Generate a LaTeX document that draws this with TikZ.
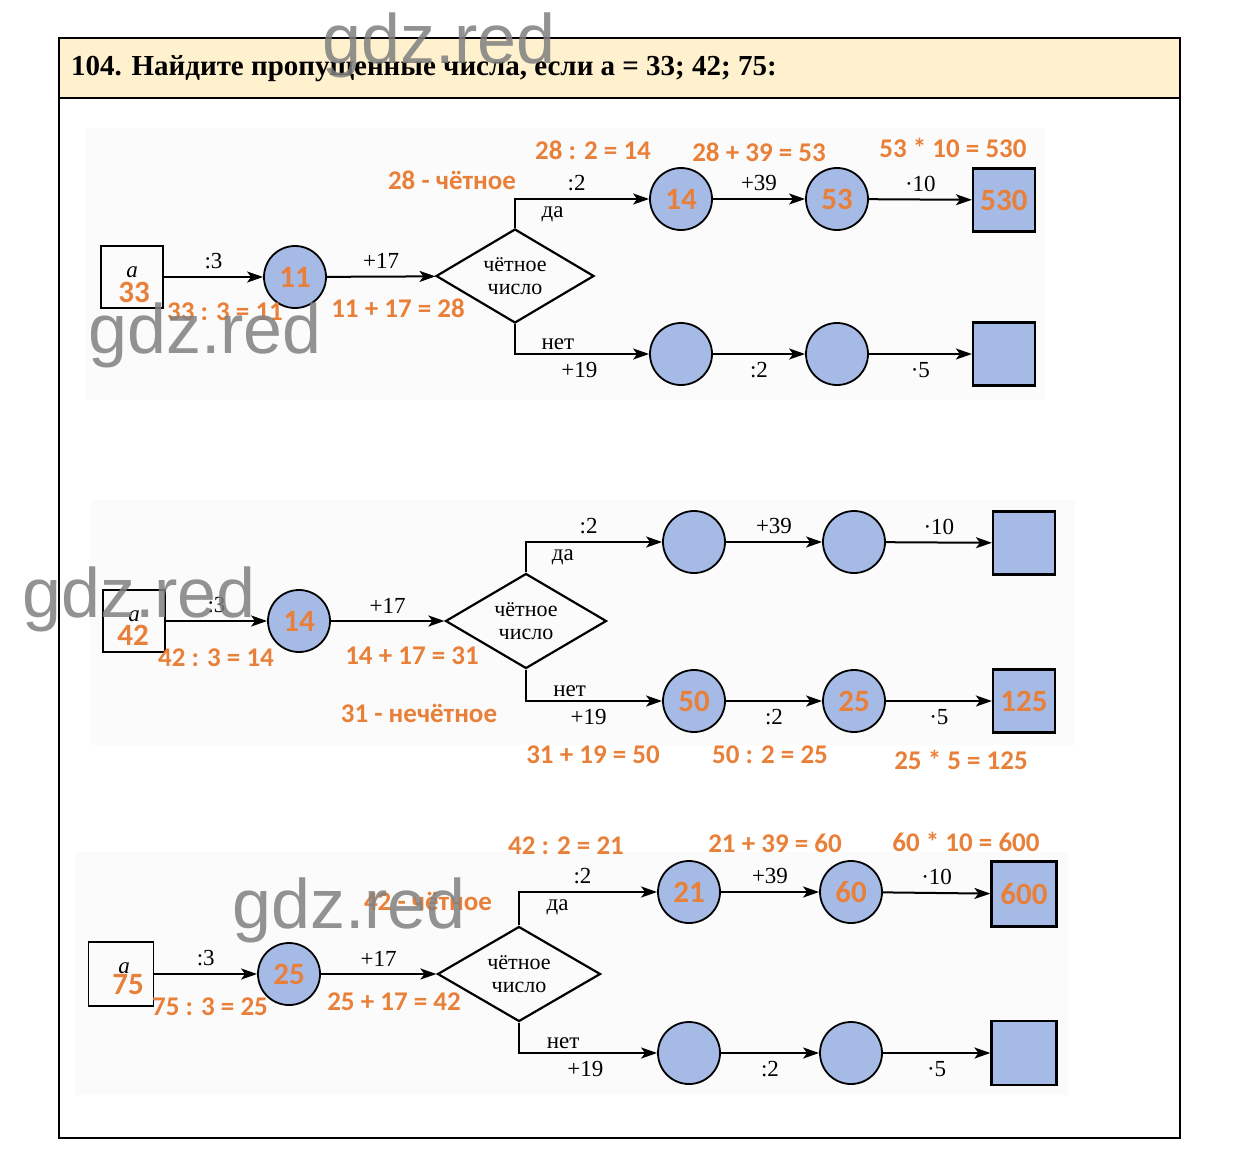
\documentclass[tikz,border=0pt]{standalone}
\usepackage{fontspec}
\setmainfont{Liberation Serif}
\newfontfamily\annfont{Carlito}
\newfontfamily\wmfont{Liberation Sans}
\usetikzlibrary{shapes.geometric,arrows.meta}
\definecolor{cblue}{RGB}{166,186,230}
\definecolor{hdr}{RGB}{255,240,206}
\definecolor{orng}{RGB}{232,128,58}
\definecolor{wmgray}{RGB}{128,128,128}
\definecolor{scan}{RGB}{251,251,251}
\begin{document}
\begin{tikzpicture}[x=1pt,y=-1pt,
 inbox/.style={draw, line width=1.8pt, minimum width=62pt, minimum height=62pt, inner sep=0pt},
 val/.style={circle, draw, line width=1.8pt, fill=cblue, minimum size=62pt, inner sep=0pt,
   font=\annfont\bfseries\fontsize{31}{31}\selectfont, text=orng},
 res/.style={draw, line width=2.2pt, fill=cblue, minimum width=62pt, minimum height=63pt, inner sep=0pt,
   font=\annfont\bfseries\fontsize{31}{31}\selectfont, text=orng},
 cond/.style={diamond, draw, line width=2.2pt, minimum width=158pt, minimum height=94pt, shape aspect=1.68,
   inner sep=0pt, align=center, font=\fontsize{22}{23}\selectfont},
 arr/.style={line width=2pt, -{Stealth[length=16pt,width=11pt,inset=4pt]}},
 lab/.style={font=\fontsize{23}{23}\selectfont, inner sep=3pt},
 labA/.style={lab, above=4pt},
 labB/.style={lab, below=4pt},
 ann/.style={font=\annfont\bfseries\fontsize{27}{27}\selectfont, text=orng, inner sep=0pt},
 bigann/.style={font=\annfont\bfseries\fontsize{31}{31}\selectfont, text=orng, inner sep=0pt},
 avar/.style={font=\itshape\fontsize{23}{23}\selectfont, inner sep=0pt},
 wm/.style={font=\wmfont\fontsize{70}{70}\selectfont, text=wmgray, opacity=0.85, inner sep=0pt, anchor=base west}
]
\useasboundingbox (0,0) rectangle (1236,1167);
\fill[white] (0,0) rectangle (1236,1167);

% frame
\fill[hdr] (59,38) rectangle (1180,98);
\draw[line width=2.5pt] (59,38) rectangle (1180,1138);
\draw[line width=2.5pt] (59,98) -- (1180,98);
\node[anchor=west, font=\bfseries\fontsize{29}{29}\selectfont, inner sep=0pt] (title) at (71,69)
  {104. Найдите пропущенные числа, если а = 33; 42; 75:};

% faint scan backgrounds
\fill[scan] (85,128) rectangle (1045,400);
\fill[scan] (90,500) rectangle (1075,745);
\fill[scan] (75,852) rectangle (1068,1095);

%%%%%%%% Panel 1
\node[inbox] (a1) at (132,277) {};
\node[avar] (a1v) at (132,272) {a};
\node[bigann] (a1n) at (134,292) {33};
\node[val] (b1) at (295,277) {11};
\node[cond] (d1) at (515,276) {чётное\\число};
\node[val] (t11) at (681,199) {14};
\node[val] (t12) at (837,199) {53};
\node[res] (t13) at (1004,200) {530};
\node[val] (n11) at (681,354) {};
\node[val] (n12) at (837,354) {};
\node[res] (n13) at (1004,354) {};
\draw[arr] (a1) -- node[labA]{:3} (b1);
\draw[arr] (b1) -- node[labA]{+17} (d1);
\draw[arr] (d1.north) |- node[labA,pos=.73]{:2} node[labB,pos=.64]{да} (t11);
\draw[arr] (t11) -- node[labA]{+39} (t12);
\draw[arr] (t12) -- node[labA]{·10} (t13);
\draw[arr] (d1.south) |- node[lab,pos=.66,above]{нет} node[labB,pos=.74]{+19} (n11);
\draw[arr] (n11) -- node[labB]{:2} (n12);
\draw[arr] (n12) -- node[labB]{·5} (n13);
\node[ann] (p1a) at (593,150) {28 : 2 = 14};
\node[ann] (p1b) at (759,152) {28 + 39 = 53};
\node[ann] (p1c) at (953,148) {53 * 10 = 530};
\node[ann] (p1d) at (452,180) {28 - чётное};
\node[ann] (p1e) at (225,312) {33 : 3 = 11};
\node[ann] (p1f) at (398,308) {11 + 17 = 28};

%%%%%%%% Panel 2
\node[inbox] (a2) at (134,621) {};
\node[avar] (a2v) at (134,616) {a};
\node[bigann] (a2n) at (133,635) {42};
\node[val] (b2) at (299,621) {14};
\node[cond, minimum width=161pt, minimum height=95pt] (d2) at (526,621) {чётное\\число};
\node[val] (t21) at (694,542) {};
\node[val] (t22) at (854,542) {};
\node[res] (t23) at (1024,543) {};
\node[val] (n21) at (694,701) {50};
\node[val] (n22) at (854,701) {25};
\node[res] (n23) at (1024,701) {125};
\draw[arr] (a2) -- node[labA]{:3} (b2);
\draw[arr] (b2) -- node[labA]{+17} (d2);
\draw[arr] (d2.north) |- node[labA,pos=.73]{:2} node[labB,pos=.635]{да} (t21);
\draw[arr] (t21) -- node[labA]{+39} (t22);
\draw[arr] (t22) -- node[labA]{·10} (t23);
\draw[arr] (d2.south) |- node[lab,pos=.66,above]{нет} node[labB,pos=.73]{+19} (n21);
\draw[arr] (n21) -- node[labB]{:2} (n22);
\draw[arr] (n22) -- node[labB]{·5} (n23);
\node[ann] (p2a) at (216,658) {42 : 3 = 14};
\node[ann] (p2b) at (412,656) {14 + 17 = 31};
\node[ann] (p2c) at (419,713) {31 - нечётное};
\node[ann] (p2d) at (593,755) {31 + 19 = 50};
\node[ann] (p2e) at (770,755) {50 : 2 = 25};
\node[ann] (p2f) at (961,760) {25 * 5 = 125};

%%%%%%%% Panel 3
\node[inbox, minimum width=65pt, minimum height=64pt] (a3) at (121,974) {};
\node[avar] (a3v) at (124,968) {a};
\node[bigann] (a3n) at (128,985) {75};
\node[val] (b3) at (289,974) {25};
\node[cond, minimum width=163pt, minimum height=95pt] (d3) at (519,974) {чётное\\число};
\node[val] (t31) at (689,892) {21};
\node[val] (t32) at (851,892) {60};
\node[res, minimum width=65pt, minimum height=65pt] (t33) at (1024,894) {600};
\node[val] (n31) at (689,1053) {};
\node[val] (n32) at (851,1053) {};
\node[res, minimum width=65pt, minimum height=64pt] (n33) at (1024,1053) {};
\draw[arr] (a3) -- node[labA]{:3} (b3);
\draw[arr] (b3) -- node[labA]{+17} (d3);
\draw[arr] (d3.north) |- node[labA,pos=.73]{:2} node[labB,pos=.64]{да} (t31);
\draw[arr] (t31) -- node[labA]{+39} (t32);
\draw[arr] (t32) -- node[labA]{·10} (t33);
\draw[arr] (d3.south) |- node[lab,pos=.66,above]{нет} node[labB,pos=.74]{+19} (n31);
\draw[arr] (n31) -- node[labB]{:2} (n32);
\draw[arr] (n32) -- node[labB]{·5} (n33);
\node[ann] (p3a) at (566,846) {42 : 2 = 21};
\node[ann] (p3b) at (775,843) {21 + 39 = 60};
\node[ann] (p3c) at (966,842) {60 * 10 = 600};
\node[ann] (p3d) at (428,901) {42 - чётное};
\node[ann] (p3e) at (210,1007) {75 : 3 = 25};
\node[ann] (p3f) at (394,1002) {25 + 17 = 42};

%%%%%%%% watermarks
\node[wm] (w0) at (322,63) {gdz.red};
\node[wm] (w1) at (88,353) {gdz.red};
\node[wm] (w2) at (22,617) {gdz.red};
\node[wm] (w3) at (232,928) {gdz.red};
\end{tikzpicture}
\end{document}
